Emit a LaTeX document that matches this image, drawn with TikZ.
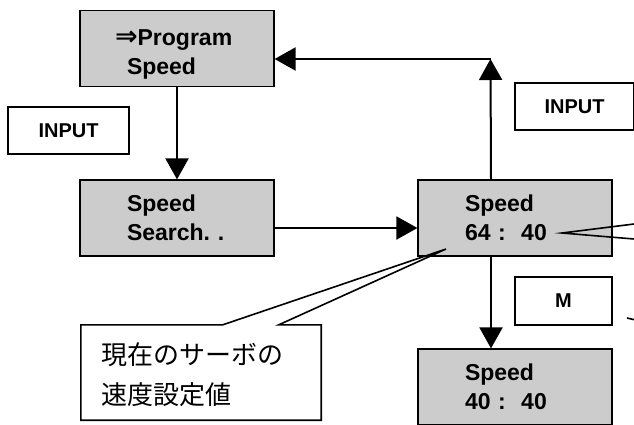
\documentclass[tikz,border=0pt]{standalone}
\usepackage{fontspec}
\setmainfont{Liberation Sans}
\newfontfamily\jpfont{Noto Sans CJK JP}
\newfontfamily\symfont{DejaVu Sans}
\usetikzlibrary{arrows.meta,positioning,calc}

\begin{document}
\begin{tikzpicture}[
    x=1pt, y=-1pt,
    box/.style={rectangle, draw, line width=1.2pt, fill=black!20, minimum width=194pt, minimum height=76pt, text width=100pt, inner xsep=47pt, align=left, font=\bfseries\fontsize{23}{29}\selectfont},
    keybox/.style={rectangle, draw, line width=1.3pt, fill=white, minimum width=#1, minimum height=47pt, font=\bfseries\fontsize{20}{24}\selectfont},
    arrow/.style={-{Triangle[length=21pt, width=23pt]}, line width=2pt},
    note/.style={line width=1.6pt}
]
\useasboundingbox (0,0) rectangle (634,424);
\clip (0,0) rectangle (634,424);

% Mode boxes
\node[box, text height=27pt] (prog) at (177,48.5) {\mbox{\hspace*{-12pt}{\symfont\fontsize{27}{29}\selectfont ⇒}Program}\\Speed};
\node[box] (search) at (177,218) {Speed\\Search.\ .};
\node[box] (cur) at (515,218) {Speed\\64 :\ \ 40};
\node[box] (new) at (515,387) {Speed\\40 :\ \ 40};

% Keys
\node[keybox=121pt] (inleft) at (68.5,130.5) {INPUT};
\node[keybox=119pt] (inright) at (574.5,106.5) {INPUT};
\node[keybox=97pt, minimum height=48pt] (mkey) at (563.5,301) {M};

% Arrows
\coordinate (corner) at (490.5,59);
\draw[arrow] (prog.south) -- (search.north);
\draw[arrow] ([yshift=-10pt]search.east) -- ([yshift=-10pt]cur.west);
\draw[arrow] ([xshift=-24pt]cur.north) -- (corner);
\draw[arrow] (corner) -- (prog.east |- corner);
\draw[arrow] ([xshift=-24pt]cur.south) -- ([xshift=-24pt]new.north);

% Callout for current value
\coordinate (tipL) at (446,249);
\node[draw=none, fill=white, minimum width=240pt, minimum height=95pt, text width=200pt, inner xsep=20pt, align=left, font=\jpfont\fontsize{26}{40}\selectfont] (note) at (201,375) {現在のサーボの\\速度設定値};
\draw[note] ($(note.north west)+(0,-2.5)$) -- ($(note.north west)+(142,-2.5)$) -- (tipL) -- ($(note.north west)+(198,-2.5)$) -- ($(note.north east)+(0,-2.5)$) -- ($(note.south east)+(0,-2.5)$) -- ($(note.south west)+(0,-2.5)$) -- cycle;

% Callout tails from outside the frame
\coordinate (tipR) at (562,233);
\coordinate (offA) at (670,219.5);
\coordinate (offB) at (670,242);
\draw[note] (offA) -- (tipR) -- (offB);
\coordinate (tickA) at (627,318);
\coordinate (tickB) at (640,321);
\draw[note] (tickA) -- (tickB);

\end{tikzpicture}
\end{document}
